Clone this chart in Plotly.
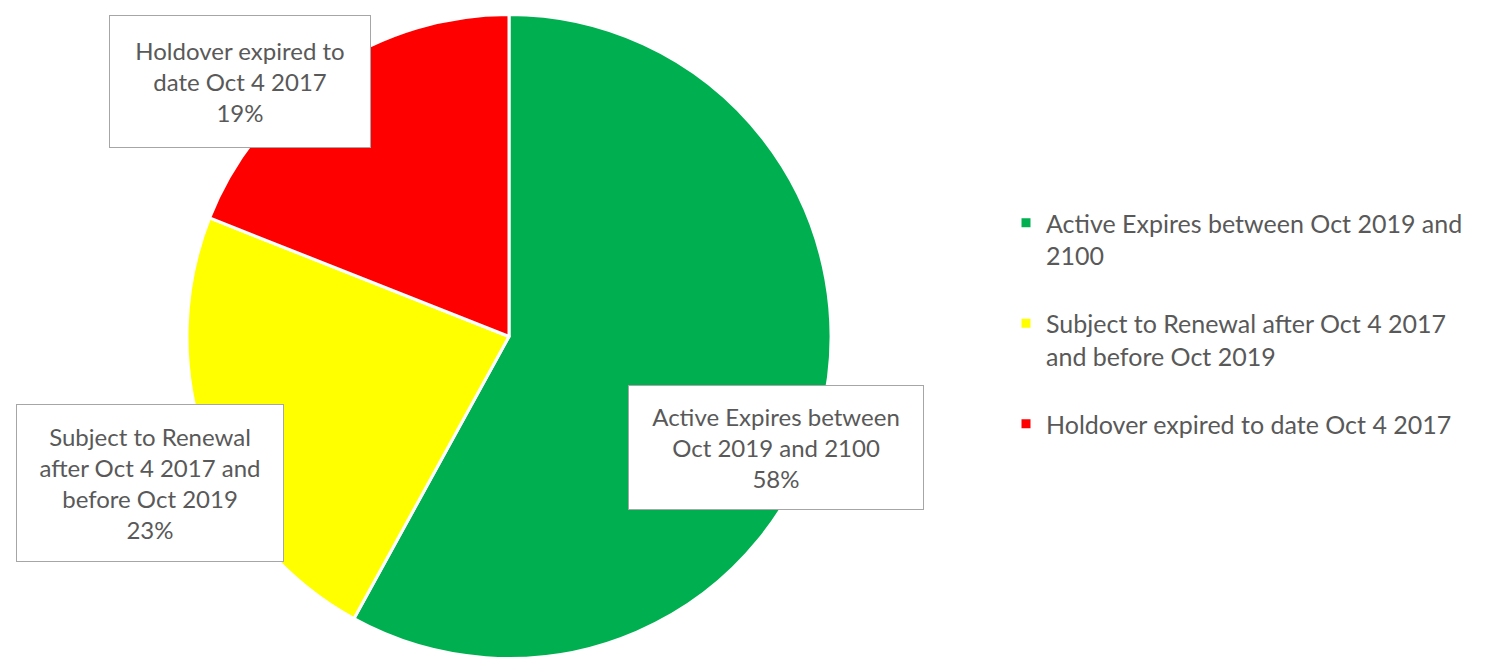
import plotly.graph_objects as go

# Licence status breakdown
categories = [
    "Active Expires between Oct 2019 and 2100",
    "Subject to Renewal after Oct 4 2017 and before Oct 2019",
    "Holdover expired to date Oct 4 2017",
]
legend_labels = [
    "Active Expires between Oct 2019 and<br>2100<br> ",
    "Subject to Renewal after Oct 4 2017<br>and before Oct 2019<br> ",
    "Holdover expired to date Oct 4 2017",
]
box_labels = [
    "Active Expires between<br>Oct 2019 and 2100",
    "Subject to Renewal<br>after Oct 4 2017 and<br>before Oct 2019",
    "Holdover expired to<br>date Oct 4 2017",
]
shares = [58, 23, 19]
colors = ["#00B050", "#FFFF00", "#FF0000"]

W, H = 1494, 665
FONT = "Lato, 'Open Sans', sans-serif"
TEXT = "#595959"

fig = go.Figure(
    go.Pie(
        labels=legend_labels,
        values=shares,
        sort=False,
        direction="clockwise",
        rotation=0,
        marker=dict(colors=colors, line=dict(color="white", width=3)),
        textinfo="none",
        hoverinfo="skip",
        domain=dict(x=[187 / W, 831 / W], y=[2 / H, 655 / H]),
    )
)

# Boxed data labels (centre x, centre y, width, height in pixels)
box_geom = [(776, 447, 296, 125), (150, 483, 268, 158), (240, 82, 262, 133)]
for lab, val, (cx, cy, bw, bh) in zip(box_labels, shares, box_geom):
    fig.add_annotation(
        x=cx / W, y=1 - cy / H, xref="paper", yref="paper",
        xanchor="center", yanchor="middle",
        text=f"{lab}<br>{val}%",
        showarrow=False, align="center",
        width=bw - 2, height=bh - 2, borderpad=0,
        bgcolor="white", bordercolor="#A6A6A6", borderwidth=1,
        font=dict(family=FONT, size=24, color=TEXT),
    )

fig.update_layout(
    width=W, height=H,
    margin=dict(l=0, r=0, t=0, b=0),
    paper_bgcolor="white",
    plot_bgcolor="white",
    showlegend=True,
    legend=dict(
        x=1006 / W, y=1 - 200 / H, xanchor="left", yanchor="top",
        valign="top", itemwidth=30,
        font=dict(family=FONT, size=25, color=TEXT),
        bgcolor="rgba(0,0,0,0)",
    ),
)

fig.write_html("out.html")
